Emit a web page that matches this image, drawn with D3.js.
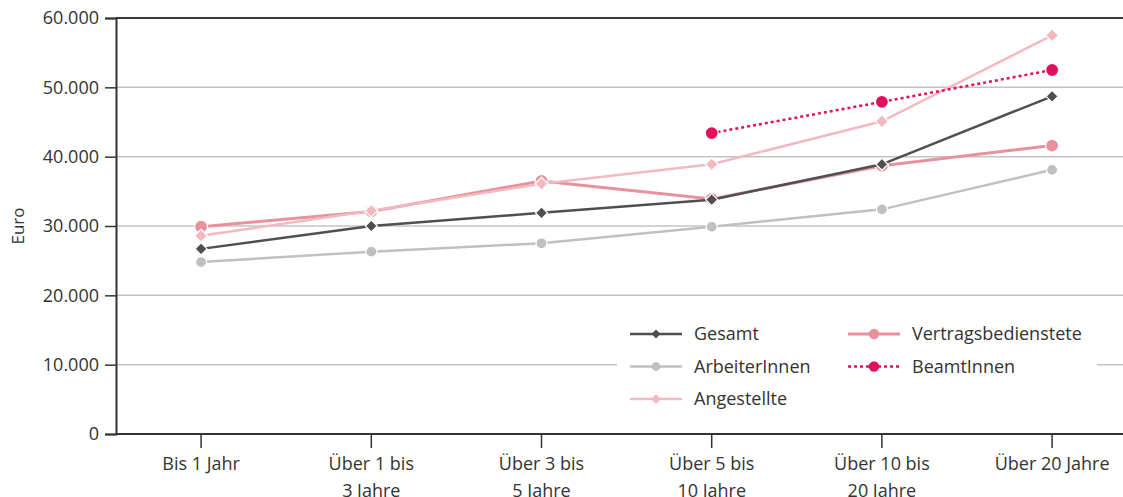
<!DOCTYPE html>
<html>
<head>
<meta charset="utf-8">
<script src="https://cdn.jsdelivr.net/npm/d3@7"></script>
<style>
  body { margin: 0; background: #fff; }
  text { font-family: "Open Sans", "DejaVu Sans", sans-serif; fill: #333; }
</style>
</head>
<body>
<div id="chart"></div>
<script>
// categories and values (Euro)
var categories = ["Bis 1 Jahr", "Über 1 bis\n3 Jahre", "Über 3 bis\n5 Jahre", "Über 5 bis\n10 Jahre", "Über 10 bis\n20 Jahre", "Über 20 Jahre"];
var gesamt = [26700, 30000, 31900, 33800, 38900, 48700];
var arbeiter = [24800, 26300, 27500, 29900, 32400, 38100];
var angestellte = [28600, 32200, 36100, 38900, 45100, 57500];
var vertrags = [29900, 32100, 36500, 33900, 38700, 41600];
var beamte = [null, null, null, 43400, 47900, 52500];
var yTicks = [0, 10000, 20000, 30000, 40000, 50000, 60000];

var W = 1123, H = 497;
var margin = {top: 18, right: 0, bottom: 63, left: 116};
var height = H - margin.top - margin.bottom;

var svg = d3.select("#chart").append("svg")
  .attr("width", W).attr("height", H);

var g = svg.append("g")
  .attr("transform", "translate(" + margin.left + "," + margin.top + ")");

var x = d3.scaleBand()
  .domain(categories)
  .range([0, 6 * 170.2]);

var y = d3.scaleLinear()
  .domain([0, 60000])
  .range([height, 0]);

var fmt = function(d) { return d3.format(",")(d).replace(/,/g, "."); };

// gridlines
g.selectAll(".grid")
  .data(yTicks.filter(function(d) { return d > 0 && d < 60000; }))
  .enter().append("line")
  .attr("x1", 0).attr("x2", W - margin.left)
  .attr("y1", function(d) { return y(d); })
  .attr("y2", function(d) { return y(d); })
  .attr("stroke", "#c4c4c6").attr("stroke-width", 1.5);

// top line
g.append("line")
  .attr("x1", 0).attr("x2", W - margin.left)
  .attr("y1", y(60000)).attr("y2", y(60000))
  .attr("stroke", "#3a3a3a").attr("stroke-width", 2);

// y axis
var yAxis = g.append("g")
  .call(d3.axisLeft(y).tickValues(yTicks).tickFormat(fmt).tickSize(11).tickPadding(6));
yAxis.select(".domain").attr("stroke", "#333").attr("stroke-width", 2);
yAxis.selectAll(".tick line").attr("stroke", "#333").attr("stroke-width", 1.5);
yAxis.selectAll("text").style("font-size", "18px").attr("fill", "#333");

// x axis
var xAxis = g.append("g")
  .attr("transform", "translate(0," + height + ")")
  .call(d3.axisBottom(x).tickSize(14).tickPadding(9).tickSizeOuter(0));
xAxis.select(".domain").attr("stroke", "#333").attr("stroke-width", 2)
  .attr("d", "M0,0H" + (W - margin.left));
xAxis.selectAll(".tick line").attr("stroke", "#333").attr("stroke-width", 1.5);
xAxis.selectAll(".tick text").each(function(d) {
  var t = d3.select(this);
  var lines = d.split("\n");
  t.text(null).style("font-size", "18px").attr("fill", "#333");
  lines.forEach(function(l, i) {
    t.append("tspan").attr("x", 0).attr("dy", i === 0 ? "0.71em" : "1.5em").text(l);
  });
});

// y label
svg.append("text")
  .attr("transform", "translate(24," + (margin.top + height / 2) + ") rotate(-90)")
  .attr("text-anchor", "middle")
  .style("font-size", "17px")
  .text("Euro");

var cx = function(i) { return x(categories[i]) + x.bandwidth() / 2; };

var series = [
  {name: "ArbeiterInnen", values: arbeiter, color: "#c0c0c3", width: 2.5, shape: "circle", size: 5.5},
  {name: "Vertragsbedienstete", values: vertrags, color: "#e8919d", width: 3, shape: "circle", size: 6.5},
  {name: "Angestellte", values: angestellte, color: "#f3b9c1", width: 2.5, shape: "diamond", size: 6.5},
  {name: "Gesamt", values: gesamt, color: "#4f4f51", width: 2.5, shape: "diamond", size: 6},
  {name: "BeamtInnen", values: beamte, color: "#e0105e", width: 2.5, shape: "circle", size: 6.5, dash: "3,3"}
];

var line = d3.line()
  .defined(function(d) { return d != null; })
  .x(function(d, i) { return cx(i); })
  .y(function(d) { return y(d); });

function marker(sel, s, px, py, stroke) {
  if (s.shape === "circle") {
    sel.append("circle").attr("cx", px).attr("cy", py).attr("r", s.size)
      .attr("fill", s.color).attr("stroke", stroke ? "#fff" : "none").attr("stroke-width", 1.2);
  } else {
    var r = s.size;
    sel.append("path")
      .attr("d", "M" + px + "," + (py - r) + "L" + (px + r) + "," + py + "L" + px + "," + (py + r) + "L" + (px - r) + "," + py + "Z")
      .attr("fill", s.color).attr("stroke", stroke ? "#fff" : "none").attr("stroke-width", 1.2);
  }
}

series.forEach(function(s) {
  var sg = g.append("g");
  sg.append("path")
    .datum(s.values)
    .attr("d", line)
    .attr("fill", "none")
    .attr("stroke", s.color)
    .attr("stroke-width", s.width)
    .attr("stroke-dasharray", s.dash || null);
  s.values.forEach(function(v, i) {
    if (v == null) return;
    marker(sg, s, cx(i), y(v), true);
  });
});

// legend
var legend = svg.append("g");
legend.append("rect")
  .attr("x", 617).attr("y", 318).attr("width", 480).attr("height", 97)
  .attr("fill", "#fff");

var legendItems = [
  {s: series[3], col: 0, row: 0},
  {s: series[0], col: 0, row: 1},
  {s: series[2], col: 0, row: 2},
  {s: series[1], col: 1, row: 0},
  {s: series[4], col: 1, row: 1}
];
legendItems.forEach(function(it) {
  var lx = 630 + it.col * 218, ly = 334 + it.row * 32.5;
  var lg = legend.append("g");
  lg.append("line")
    .attr("x1", lx).attr("x2", lx + 52).attr("y1", ly).attr("y2", ly)
    .attr("stroke", it.s.color).attr("stroke-width", it.s.width)
    .attr("stroke-dasharray", it.s.dash || null);
  marker(lg, {shape: it.s.shape, size: it.s.size * (it.s.shape === "diamond" ? 0.75 : 0.8), color: it.s.color}, lx + 26, ly, false);
  lg.append("text")
    .attr("x", lx + 64).attr("y", ly).attr("dy", "0.35em")
    .style("font-size", "18px")
    .text(it.s.name);
});
</script>
</body>
</html>
